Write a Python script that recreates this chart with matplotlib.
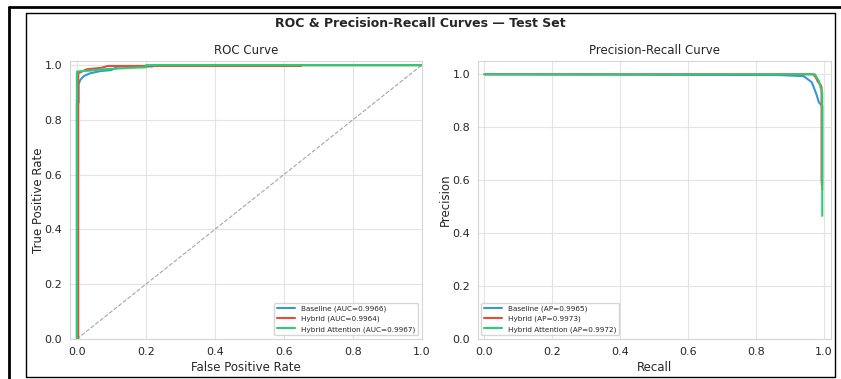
import matplotlib
matplotlib.use('Agg')
import matplotlib.pyplot as plt
import seaborn as sns
from matplotlib.lines import Line2D

# model names, colors and scores
models = ['Baseline', 'Hybrid', 'Hybrid Attention']
colors = ['#3498db', '#e74c3c', '#2ecc71']
auc_scores = [0.9966, 0.9964, 0.9967]
ap_scores = [0.9965, 0.9973, 0.9972]

# ROC points
fpr_base = [0.0, 0.0, 0.005, 0.005, 0.01, 0.02, 0.038, 0.067, 0.1, 0.12, 0.22, 0.22, 0.65, 1.0]
tpr_base = [0.0, 0.86, 0.863, 0.93, 0.946, 0.96, 0.97, 0.978, 0.982, 0.995, 0.995, 1.0, 1.0, 1.0]
fpr_hyb = [0.0, 0.0, 0.004, 0.004, 0.02, 0.03, 0.07, 0.09, 0.65, 0.65, 1.0]
tpr_hyb = [0.0, 0.0, 0.0, 0.97, 0.98, 0.985, 0.99, 0.997, 0.997, 1.0, 1.0]
fpr_att = [0.0, 0.0, 0.01, 0.04, 0.08, 0.155, 0.2, 0.2, 1.0]
tpr_att = [0.0, 0.976, 0.978, 0.98, 0.985, 0.99, 0.992, 1.0, 1.0]

# precision-recall points
rec_base = [0.0, 0.865, 0.94, 0.964, 0.978, 0.985, 0.995, 0.995]
prec_base = [1.0, 0.997, 0.993, 0.97, 0.924, 0.894, 0.88, 0.58]
rec_hyb = [0.0, 0.968, 0.975, 0.983, 0.99, 0.993, 0.993, 0.995]
prec_hyb = [1.0, 1.0, 0.99, 0.97, 0.96, 0.95, 0.6, 0.565]
rec_att = [0.0, 0.973, 0.98, 0.985, 0.99, 0.995, 0.995]
prec_att = [1.0, 1.0, 0.985, 0.975, 0.95, 0.93, 0.465]

roc_data = [(fpr_base, tpr_base), (fpr_hyb, tpr_hyb), (fpr_att, tpr_att)]
pr_data = [(rec_base, prec_base), (rec_hyb, prec_hyb), (rec_att, prec_att)]

sns.set_style('whitegrid', {'grid.color': '#e3e3e3', 'axes.edgecolor': '#d6d6d6'})
plt.rcParams['font.family'] = ['DejaVu Sans']

fig = plt.figure(figsize=(8.41, 3.79), dpi=100)
ax1 = fig.add_axes([0.0832, 0.1055, 0.4182, 0.7335])
ax2 = fig.add_axes([0.568, 0.1055, 0.4198, 0.7335])

# ROC panel
for (x, y), name, c, s in zip(roc_data, models, colors, auc_scores):
    ax1.plot(x, y, color=c, lw=1.5, label='%s (AUC=%.4f)' % (name, s))
ax1.plot([0, 1], [0, 1], color='gray', ls='--', lw=0.8, alpha=0.7)
ax1.set_xlim(-0.02, 1.0)
ax1.set_ylim(0.0, 1.015)
ax1.set_xlabel('False Positive Rate', fontsize=8.5, labelpad=3)
ax1.set_ylabel('True Positive Rate', fontsize=8.5, labelpad=0)
ax1.set_title('ROC Curve', fontsize=8.5, pad=5)
ax1.legend(loc='lower right', fontsize=5.2, handlelength=2.5, frameon=True)

# PR panel
for (x, y), name, c, s in zip(pr_data, models, colors, ap_scores):
    ax2.plot(x, y, color=c, lw=1.5, label='%s (AP=%.4f)' % (name, s))
ax2.set_xlim(-0.02, 1.02)
ax2.set_ylim(0.0, 1.05)
ax2.set_xlabel('Recall', fontsize=8.5, labelpad=3)
ax2.set_ylabel('Precision', fontsize=8.5, labelpad=0)
ax2.set_title('Precision-Recall Curve', fontsize=8.5, pad=5)
ax2.legend(loc='lower left', fontsize=5.2, handlelength=2.5, frameon=True)

for ax in (ax1, ax2):
    ax.tick_params(labelsize=8, pad=2)
    ax.set_xticks([0.0, 0.2, 0.4, 0.6, 0.8, 1.0])
    ax.set_yticks([0.0, 0.2, 0.4, 0.6, 0.8, 1.0])

fig.text(0.5, 0.937, 'ROC & Precision-Recall Curves \u2014 Test Set',
         ha='center', va='center', fontsize=9, fontweight='bold')

# page frame around the screenshot
W, H = 841.0, 379.0
fig.add_artist(Line2D([9 / W, 9 / W], [0, 1 - 7 / H], color='black', lw=2))
fig.add_artist(Line2D([9 / W, 1], [1 - 7 / H, 1 - 7 / H], color='black', lw=2))
bx = [26 / W, 835 / W, 835 / W, 26 / W, 26 / W]
by = [1 - 13 / H, 1 - 13 / H, 1 - 377 / H, 1 - 377 / H, 1 - 13 / H]
fig.add_artist(Line2D(bx, by, color='black', lw=1))

fig.savefig('out.png', dpi=100)
